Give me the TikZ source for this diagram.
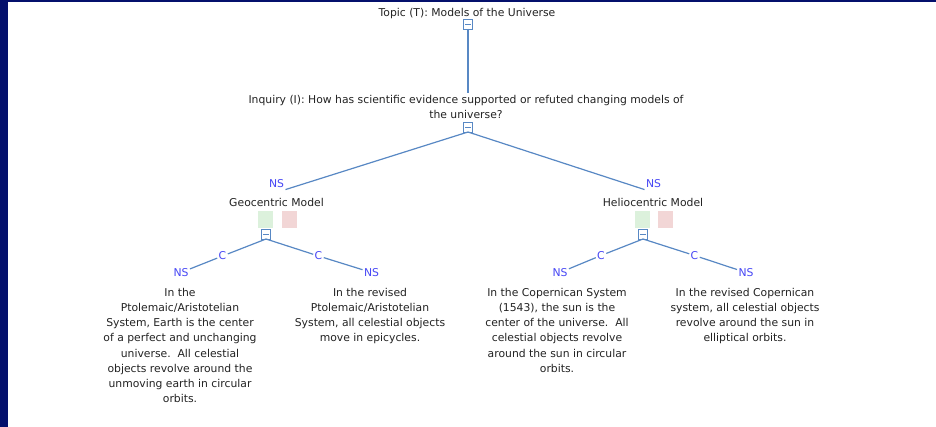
\documentclass[tikz,border=0pt]{standalone}
\usepackage{fontspec}
\setmainfont{DejaVu Sans}
\begin{document}
\definecolor{navy}{RGB}{4,16,108}
\definecolor{linkblue}{RGB}{88,136,196}
\definecolor{labelblue}{RGB}{72,72,245}
\definecolor{conceptgrey}{RGB}{35,35,35}
\definecolor{okgreen}{RGB}{220,241,220}
\definecolor{nored}{RGB}{242,214,214}
\begin{tikzpicture}[x=1pt,y=-1pt,
  every node/.style={inner sep=0pt, outer sep=0pt},
  concept/.style={font=\fontsize{10.8}{15.2}\selectfont, text=conceptgrey, align=center},
  linklabel/.style={font=\fontsize{10.8}{13}\selectfont, text=labelblue, inner sep=1.5pt},
  connector/.style={draw=linkblue, line width=1.2pt},
  collapse/.style={draw=linkblue, fill=white, line width=0.8pt, minimum width=9.5pt, minimum height=10pt,
    path picture={\draw[linkblue, line width=0.8pt]
      ([xshift=-2.6pt]path picture bounding box.center) -- ([xshift=2.6pt]path picture bounding box.center);}},
  swatch/.style={minimum width=15pt, minimum height=17pt}
]
% canvas and frame bands
\path[use as bounding box] (0,0) rectangle (936,427);
\fill[white] (0,0) rectangle (936,427);
\fill[navy] (0,0) rectangle (8,427);
\fill[navy] (0,0) rectangle (936,2);

% topic
\node[concept, anchor=base] (topic) at (467,17) {Topic (T): Models of the Universe};
\node[collapse] (tbox) at (468,24) {};

% inquiry
\node[concept, anchor=north, inner sep=2pt] (inq) at (466,93)
  {Inquiry (I): How has scientific evidence supported or refuted changing models of\\the universe?};
\node[collapse] (ibox) at (468,127) {};
\draw[connector] (tbox.south) -- (tbox.south |- inq.north);

% model concepts
\node[linklabel] (nsG) at (276.5,184) {NS};
\node[linklabel] (nsH) at (653.5,184) {NS};
\node[concept, anchor=base] (geo) at (276.5,207) {Geocentric Model};
\node[concept, anchor=base] (helio) at (653,207) {Heliocentric Model};
\draw[connector] (ibox.south) -- (nsG.south east);
\draw[connector] (ibox.south) -- (nsH.south west);

\node[swatch, fill=okgreen] (gyes) at (265.5,219.5) {};
\node[swatch, fill=nored] (gno) at (289.5,219.5) {};
\node[collapse] (gbox) at (266,234) {};
\node[swatch, fill=okgreen] (hyes) at (642.5,219.5) {};
\node[swatch, fill=nored] (hno) at (665.5,219.5) {};
\node[collapse] (hbox) at (643,234) {};

% geocentric branches
\node[linklabel] (cG1) at (222.5,256) {C};
\node[linklabel] (cG2) at (318.5,256) {C};
\node[linklabel] (nsG1) at (181,272.5) {NS};
\node[linklabel] (nsG2) at (371.5,272.5) {NS};
\draw[connector] (gbox.south) -- (cG1);
\draw[connector] (cG1) -- (nsG1);
\draw[connector] (gbox.south) -- (cG2);
\draw[connector] (cG2) -- (nsG2);

% heliocentric branches
\node[linklabel] (cH1) at (601,255.5) {C};
\node[linklabel] (cH2) at (694.5,255.5) {C};
\node[linklabel] (nsH1) at (560,272.5) {NS};
\node[linklabel] (nsH2) at (746,272.5) {NS};
\draw[connector] (hbox.south) -- (cH1);
\draw[connector] (cH1) -- (nsH1);
\draw[connector] (hbox.south) -- (cH2);
\draw[connector] (cH2) -- (nsH2);

% statements
\node[concept, anchor=north] (ptol) at (180,288)
  {In the\\Ptolemaic/Aristotelian\\System, Earth is the center\\of a perfect and unchanging\\universe.\ \ All celestial\\objects revolve around the\\unmoving earth in circular\\orbits.};
\node[concept, anchor=north] (ptolrev) at (370,288)
  {In the revised\\Ptolemaic/Aristotelian\\System, all celestial objects\\move in epicycles.};
\node[concept, anchor=north] (cop) at (557,288)
  {In the Copernican System\\(1543), the sun is the\\center of the universe.\ \ All\\celestial objects revolve\\around the sun in circular\\orbits.};
\node[concept, anchor=north] (coprev) at (745,288)
  {In the revised Copernican\\system, all celestial objects\\revolve around the sun in\\elliptical orbits.};
\end{tikzpicture}
\end{document}
